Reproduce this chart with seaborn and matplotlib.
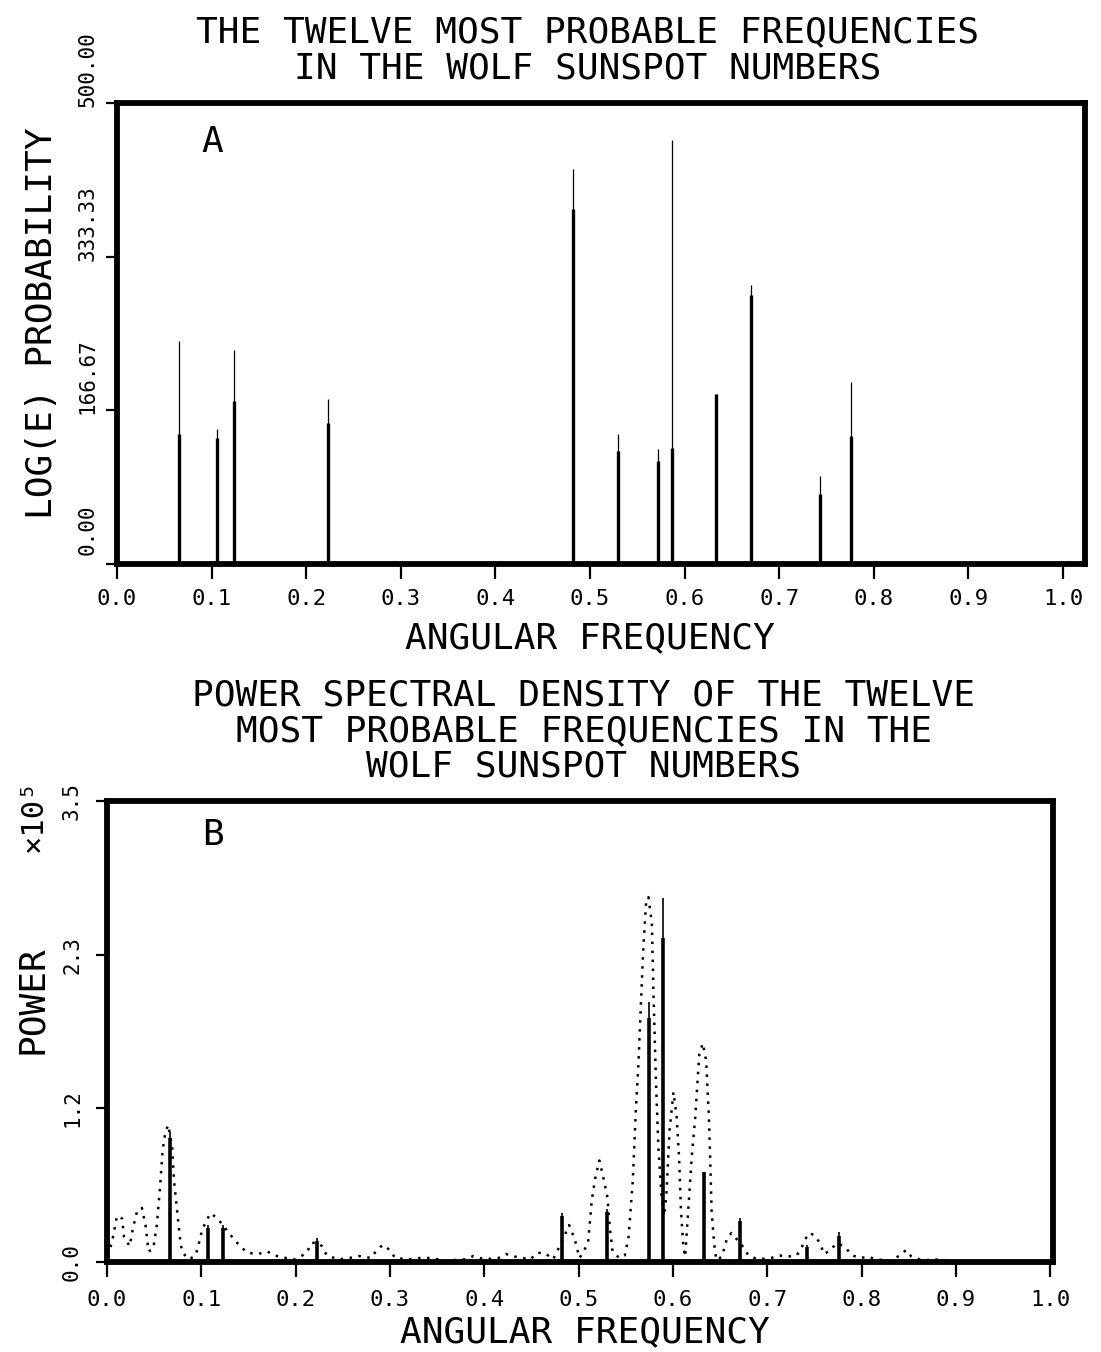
import matplotlib
matplotlib.use("Agg")
import matplotlib.pyplot as plt
from matplotlib.transforms import ScaledTranslation
import seaborn as sns
import pandas as pd
import numpy as np

# Panel A: twelve most probable frequencies (spike peaks and thick body)
a_freq = [0.0656, 0.106, 0.124, 0.223, 0.4825, 0.530, 0.572, 0.5866, 0.6328, 0.670, 0.7436, 0.7764]
a_peak = [242, 147, 232, 179, 428, 141, 125, 460, 184, 303, 95, 197]
a_body = [141, 137, 177, 153, 385, 123, 112, 126, 184, 292, 76, 139]
a_yticks = [0.0, 500 / 3, 1000 / 3, 500.0]
a_yticklabels = ["0.00", "166.67", "333.33", "500.00"]

# Panel B: power at the twelve frequencies (x1e5)
b_freq = [0.0671, 0.1066, 0.123, 0.223, 0.4822, 0.530, 0.575, 0.590, 0.633, 0.671, 0.742, 0.7765]
b_peak = [0.99, 0.28, 0.28, 0.18, 0.37, 0.40, 1.97, 2.76, 0.68, 0.33, 0.13, 0.23]
b_body = [0.94, 0.26, 0.26, 0.16, 0.35, 0.38, 1.85, 2.46, 0.68, 0.31, 0.11, 0.20]
b_yticks = [0.0, 3.5 / 3, 7.0 / 3, 3.5]
b_yticklabels = ["0.0", "1.2", "2.3", "3.5"]

# Panel B: dotted power spectral density (x1e5)
psd_freq = [0.0, 0.005, 0.0106, 0.016, 0.018, 0.024, 0.0276, 0.032, 0.037, 0.041,
            0.044, 0.049, 0.053, 0.056, 0.059, 0.062, 0.065, 0.069, 0.071, 0.075,
            0.078, 0.08, 0.087, 0.094, 0.097, 0.1007, 0.105, 0.110, 0.117, 0.124,
            0.129, 0.135, 0.141, 0.149, 0.16, 0.17, 0.177, 0.19, 0.2, 0.212,
            0.216, 0.222, 0.228, 0.233, 0.245, 0.257, 0.267, 0.28, 0.286, 0.2925,
            0.3, 0.3055, 0.32, 0.332, 0.342, 0.36, 0.38, 0.3886, 0.40, 0.415,
            0.423, 0.433, 0.449, 0.456, 0.4645, 0.473, 0.482, 0.49, 0.496, 0.501,
            0.51, 0.514, 0.5175, 0.522, 0.526, 0.5306, 0.533, 0.536, 0.543, 0.549,
            0.553, 0.5575, 0.5607, 0.5635, 0.565, 0.5688, 0.5717, 0.574, 0.5777, 0.5794,
            0.582, 0.5846, 0.588, 0.5905, 0.593, 0.5965, 0.6006, 0.604, 0.6065, 0.6085,
            0.611, 0.613, 0.6165, 0.6201, 0.6236, 0.628, 0.6317, 0.6352, 0.638, 0.6394,
            0.641, 0.6437, 0.646, 0.652, 0.657, 0.662, 0.668, 0.675, 0.68, 0.69,
            0.704, 0.713, 0.721, 0.7313, 0.7366, 0.74, 0.7447, 0.7507, 0.756, 0.7603,
            0.7673, 0.773, 0.778, 0.784, 0.79, 0.799, 0.807, 0.815, 0.83, 0.841,
            0.847, 0.853, 0.865, 0.876, 0.9, 0.95, 1.0]
psd_power = [0.05, 0.14, 0.35, 0.33, 0.19, 0.12, 0.26, 0.39, 0.41, 0.27,
             0.08, 0.10, 0.29, 0.55, 0.85, 0.99, 1.04, 0.87, 0.62, 0.34,
             0.14, 0.07, 0.02, 0.05, 0.13, 0.24, 0.31, 0.37, 0.33, 0.27,
             0.22, 0.17, 0.12, 0.07, 0.06, 0.08, 0.05, 0.03, 0.02, 0.07,
             0.14, 0.15, 0.12, 0.05, 0.02, 0.03, 0.045, 0.03, 0.09, 0.13,
             0.09, 0.03, 0.02, 0.03, 0.03, 0.01, 0.02, 0.045, 0.02, 0.03,
             0.06, 0.04, 0.02, 0.07, 0.066, 0.02, 0.15, 0.28, 0.17, 0.03,
             0.14, 0.47, 0.63, 0.77, 0.65, 0.49, 0.27, 0.08, 0.03, 0.05,
             0.19, 0.62, 1.15, 1.51, 1.78, 2.41, 2.74, 2.77, 2.57, 2.04,
             1.38, 0.87, 0.49, 0.35, 0.50, 1.00, 1.29, 1.10, 0.80, 0.40,
             0.12, 0.04, 0.42, 0.81, 1.09, 1.58, 1.66, 1.53, 1.13, 0.82,
             0.39, 0.14, 0.015, 0.04, 0.17, 0.22, 0.17, 0.11, 0.05, 0.02,
             0.03, 0.05, 0.04, 0.05, 0.11, 0.17, 0.22, 0.20, 0.14, 0.06,
             0.09, 0.14, 0.13, 0.10, 0.05, 0.03, 0.04, 0.02, 0.01, 0.05,
             0.09, 0.04, 0.01, 0.02, 0.005, 0.0, 0.0]

xticks = [0.0, 0.1, 0.2, 0.3, 0.4, 0.5, 0.6, 0.7, 0.8, 0.9, 1.0]

sns.set_theme(style="white")
plt.rcParams["font.family"] = ["DejaVu Sans Mono", "DejaVu Sans"]
plt.rcParams["text.color"] = "black"

fig = plt.figure(figsize=(11.01, 13.52), dpi=100)
ax_a = fig.add_axes([0.1063, 0.5828, 0.8792, 0.3410])
ax_b = fig.add_axes([0.0972, 0.0666, 0.8592, 0.3410])

TEXT_SIZE = 26


def style_axes(ax, xmax, ymax, yticks, ylabels, ytick_pad, xtick_pad):
    for sp in ax.spines.values():
        sp.set_linewidth(4.2)
        sp.set_color("black")
        sp.set_visible(True)
    ax.set_xlim(0, xmax)
    ax.set_ylim(0, ymax)
    ax.set_xticks(xticks, labels=[f"{t:.1f}" for t in xticks])
    ax.set_yticks(yticks, labels=ylabels)
    ax.tick_params(axis="x", direction="out", length=11, width=1.6, pad=xtick_pad,
                   labelsize=16, bottom=True, colors="black")
    ax.tick_params(axis="y", direction="out", length=8, width=1.6, pad=ytick_pad,
                   labelsize=15, left=True, colors="black")
    for lab in ax.get_yticklabels():
        lab.set_rotation(90)
        lab.set_va("center")
    ax.set_xlabel("")
    ax.set_ylabel("")
    ax.grid(False)


# Panel A
ax_a.vlines(a_freq, 0, a_peak, color="black", lw=0.9)
ax_a.vlines(a_freq, 0, a_body, color="black", lw=2.4)
style_axes(ax_a, 1.0233, 500, a_yticks, a_yticklabels, ytick_pad=6, xtick_pad=7)
for lab in ax_a.get_yticklabels():
    lab.set_transform(lab.get_transform() + ScaledTranslation(0, 0.34, fig.dpi_scale_trans))
ax_a.text(0.098, 0.915, "A", transform=ax_a.transAxes, fontsize=TEXT_SIZE, ha="center", va="center")

# Panel B
psd_df = pd.DataFrame({"freq": psd_freq, "power": psd_power})
sns.lineplot(data=psd_df, x="freq", y="power", ax=ax_b, color="black", lw=1.8,
             linestyle=(0, (1.0, 2.6)))
ax_b.vlines(b_freq, 0, b_peak, color="black", lw=1.2)
ax_b.vlines(b_freq, 0, b_body, color="black", lw=2.6)
style_axes(ax_b, 1.003, 3.5, b_yticks, b_yticklabels, ytick_pad=10, xtick_pad=9)
ax_b.text(0.112, 0.926, "B", transform=ax_b.transAxes, fontsize=TEXT_SIZE, ha="center", va="center")

# Titles and axis labels
fig.text(0.534, 0.963, "THE TWELVE MOST PROBABLE FREQUENCIES\nIN THE WOLF SUNSPOT NUMBERS",
         ha="center", va="center", fontsize=TEXT_SIZE, linespacing=1.08)
fig.text(0.536, 0.528, "ANGULAR FREQUENCY", ha="center", va="center", fontsize=TEXT_SIZE)
fig.text(0.038, 0.761, "LOG(E) PROBABILITY", ha="center", va="center", rotation=90, fontsize=TEXT_SIZE)

fig.text(0.530, 0.4593,
         "POWER SPECTRAL DENSITY OF THE TWELVE\nMOST PROBABLE FREQUENCIES IN THE\nWOLF SUNSPOT NUMBERS",
         ha="center", va="center", fontsize=TEXT_SIZE, linespacing=1.06)
fig.text(0.531, 0.002, "ANGULAR FREQUENCY", ha="center", va="bottom", fontsize=TEXT_SIZE)
fig.text(0.029, 0.2604, "POWER", ha="center", va="center", rotation=90, fontsize=TEXT_SIZE)
fig.text(0.030, 0.397, "×10⁵", ha="center", va="center", rotation=90, fontsize=22)

fig.savefig("out.png", dpi=100, facecolor="white")
plt.close(fig)
